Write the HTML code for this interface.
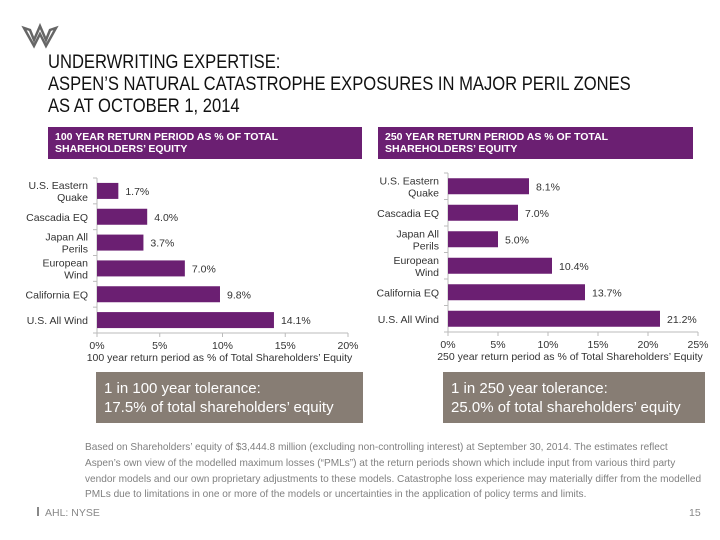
<!DOCTYPE html>
<html><head><meta charset="utf-8"><style>
body{margin:0;width:720px;height:540px;background:#fff;font-family:"Liberation Sans",sans-serif;position:relative;overflow:hidden}
.abs{position:absolute}
.title{left:48px;top:51px;font-size:19.5px;line-height:22px;color:#111;transform:scaleX(0.85);transform-origin:left top;white-space:nowrap}
.hdr{background:#6b1f72;color:#fff;font-weight:bold;font-size:10.5px;line-height:12px;padding:4px 7px;box-sizing:border-box;height:32px;top:127px}
.box{background:#877d74;color:#fff;font-size:15px;line-height:19px;padding:7px 8px;box-sizing:border-box;top:372px;height:51px}
.note{left:85px;top:440px;font-size:10.4px;line-height:15.8px;color:#808080;white-space:nowrap;transform:scaleX(0.97);transform-origin:left top}
</style></head><body>
<svg class="abs" style="left:20px;top:20px" width="40" height="32">
<path d="M4 8 L14 26 L20 14 L26 26 L36 8 L30 10 L26 20 L20 6 L14 20 L10 10Z" fill="none" stroke="#666" stroke-width="2.5"/>
</svg>
<div class="abs title">UNDERWRITING EXPERTISE:<br>ASPEN’S NATURAL CATASTROPHE EXPOSURES IN MAJOR PERIL ZONES<br>AS AT OCTOBER 1, 2014</div>
<div class="abs hdr" style="left:48px;width:314px">100 YEAR RETURN PERIOD AS % OF TOTAL<br>SHAREHOLDERS’ EQUITY</div>
<div class="abs hdr" style="left:378px;width:315px">250 YEAR RETURN PERIOD AS % OF TOTAL<br>SHAREHOLDERS’ EQUITY</div>
<svg id="c1" class="abs" style="left:0;top:0" width="720" height="540"></svg>
<div class="abs box" style="left:96px;width:267px">1 in 100 year tolerance:<br>17.5% of total shareholders’ equity</div>
<div class="abs box" style="left:443px;width:262px">1 in 250 year tolerance:<br>25.0% of total shareholders’ equity</div>
<div class="abs note">Based on Shareholders’ equity of $3,444.8 million (excluding non-controlling interest) at September 30, 2014. The estimates reflect<br>Aspen’s own view of the modelled maximum losses (“PMLs”) at the return periods shown which include input from various third party<br>vendor models and our own proprietary adjustments to these models. Catastrophe loss experience may materially differ from the modelled<br>PMLs due to limitations in one or more of the models or uncertainties in the application of policy terms and limits.</div>
<div class="abs" style="left:37px;top:507px;font-size:10.5px;color:#888"><span style="display:inline-block;width:2px;height:9px;background:#888;margin-right:6px"></span>AHL: NYSE</div>
<div class="abs" style="left:689px;top:507px;font-size:10.5px;color:#888">15</div>
<script>
const categories=[["U.S. Eastern","Quake"],["Cascadia EQ"],["Japan All","Perils"],["European","Wind"],["California EQ"],["U.S. All Wind"]];
const values100=[1.7,4.0,3.7,7.0,9.8,14.1];
const values250=[8.1,7.0,5.0,10.4,13.7,21.2];
const ticks100=[0,5,10,15,20];
const ticks250=[0,5,10,15,20,25];
const NS="http://www.w3.org/2000/svg";
const svg=document.getElementById('c1');
function el(t,a,txt){const e=document.createElementNS(NS,t);for(const k in a)e.setAttribute(k,a[k]);if(txt!=null)e.textContent=txt;svg.appendChild(e);return e;}
function chart(cfg){
  const {x0,x1,yTop,yAxis,vals,ticks,title,key}=cfg;
  const max=ticks[ticks.length-1];
  const sx=v=>x0+(x1-x0)*v/max;
  const band=(yAxis-yTop)/vals.length;
  const by=i=>yTop+band*(i+0.5);
  let a=el('line',{x1:x0,y1:yTop,x2:x0,y2:yAxis,stroke:'#bbb'});
  
  a=el('line',{x1:x0,y1:yAxis,x2:x1,y2:yAxis,stroke:'#bbb'});
  
  for(let i=0;i<=vals.length;i++){el('line',{x1:x0-4,x2:x0,y1:yTop+band*i,y2:yTop+band*i,stroke:'#bbb'});}
  ticks.forEach(t=>{
    el('line',{x1:sx(t),x2:sx(t),y1:yAxis,y2:yAxis+4,stroke:'#bbb'});
    const tl=el('text',{x:sx(t),y:yAxis+16,'text-anchor':'middle','font-size':'10.5',fill:'#333'},t+'%');
    
  });
  const tt=el('text',{x:(x0+x1)/2-3,y:yAxis+28,'text-anchor':'middle','font-size':'10.5',fill:'#333'},title);
  
  vals.forEach((v,i)=>{
    const y=by(i);
    const r=el('rect',{x:x0,y:y-8,width:sx(v)-x0,height:16,fill:'#6b1f72'});
    
    const l=el('text',{x:sx(v)+7,y:y+4,'font-size':'10.5',fill:'#333'},v.toFixed(1)+'%');
    
    const c=categories[i];
    c.forEach((s,j)=>{
      const ct=el('text',{x:x0-9,y:y+4+(j-(c.length-1)/2)*12,'text-anchor':'end','font-size':'10.5',fill:'#333'},s);
      
    });
  });
}
chart({x0:97,x1:348,yTop:178,yAxis:333,vals:values100,ticks:ticks100,title:"100 year return period as % of Total Shareholders’ Equity",key:'c100'});
chart({x0:448,x1:698,yTop:173,yAxis:332,vals:values250,ticks:ticks250,title:"250 year return period as % of Total Shareholders’ Equity",key:'c250'});
</script>
</body></html>
